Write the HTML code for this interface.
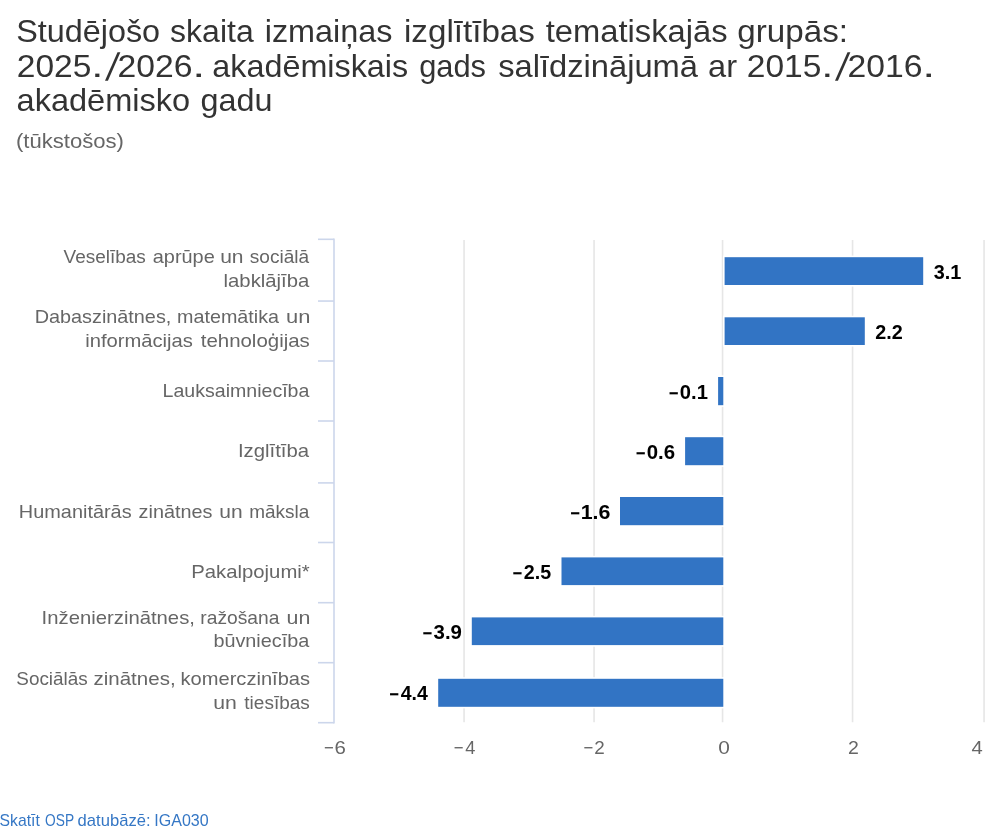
<!DOCTYPE html>
<html lang="lv"><head><meta charset="utf-8"><title>Studējošo skaita izmaiņas</title>
<style>html,body{margin:0;padding:0;background:#ffffff;}body{width:1000px;height:834px;overflow:hidden;font-family:"Liberation Sans",sans-serif;}svg{display:block;will-change:transform;}text{font-family:"Liberation Sans",sans-serif;white-space:pre;}</style></head><body>
<svg width="1000" height="834" viewBox="0 0 1000 834">
<rect x="0" y="0" width="1000" height="834" fill="#ffffff"/>
<g stroke="#e6e6e6" stroke-width="1.6" fill="none">
<path d="M464.05 240V722.3"/>
<path d="M594.05 240V722.3"/>
<path d="M722.55 240V722.3"/>
<path d="M852.55 240V722.3"/>
<path d="M984.05 240V722.3"/>
</g>
<g stroke="#ccd6eb" stroke-width="1.6" fill="none">
<path d="M334 238.5V723.5"/>
<path d="M318 239.30H334"/>
<path d="M318 301.05H334"/>
<path d="M318 361.00H334"/>
<path d="M318 421.00H334"/>
<path d="M318 482.90H334"/>
<path d="M318 542.50H334"/>
<path d="M318 602.70H334"/>
<path d="M318 662.70H334"/>
<path d="M318 722.70H334"/>
</g>
<g fill="#3274c4">
<rect x="723.0" y="255.6" width="201.8" height="31.0" fill="#ffffff"/>
<rect x="724.6" y="257.2" width="198.6" height="27.8"/>
<rect x="723.0" y="315.7" width="143.4" height="30.9" fill="#ffffff"/>
<rect x="724.6" y="317.3" width="140.2" height="27.7"/>
<rect x="716.5" y="375.4" width="8.4" height="31.4" fill="#ffffff"/>
<rect x="718.1" y="377.0" width="5.2" height="28.2"/>
<rect x="683.5" y="435.6" width="41.4" height="31.2" fill="#ffffff"/>
<rect x="685.1" y="437.2" width="38.2" height="28.0"/>
<rect x="618.4" y="495.4" width="106.5" height="31.4" fill="#ffffff"/>
<rect x="620.0" y="497.0" width="103.3" height="28.2"/>
<rect x="559.9" y="555.8" width="165.0" height="30.9" fill="#ffffff"/>
<rect x="561.5" y="557.4" width="161.8" height="27.7"/>
<rect x="470.2" y="615.8" width="254.7" height="30.9" fill="#ffffff"/>
<rect x="471.8" y="617.4" width="251.5" height="27.7"/>
<rect x="436.6" y="677.2" width="288.3" height="31.2" fill="#ffffff"/>
<rect x="438.2" y="678.8" width="285.1" height="28.0"/>
</g>
<path d="M105.0 80.8L107.9 80.8L120.4 52.2L117.5 52.2Z" fill="#333333"/>
<path d="M835.0 80.8L837.9 80.8L850.4 52.2L847.5 52.2Z" fill="#333333"/>
<text transform="translate(16.20 41.5) scale(1.0277 1)" font-size="31.5" fill="#333333">Studējošo</text>
<text transform="translate(170.06 41.5) scale(1.0167 1)" font-size="31.5" fill="#333333">skaita</text>
<text transform="translate(264.73 41.5) scale(1.0272 1)" font-size="31.5" fill="#333333">izmaiņas</text>
<text transform="translate(403.97 41.5) scale(1.0537 1)" font-size="31.5" fill="#333333">izglītības</text>
<text transform="translate(545.77 41.5) scale(1.0385 1)" font-size="31.5" fill="#333333">tematiskajās</text>
<text transform="translate(737.34 41.5) scale(1.0529 1)" font-size="31.5" fill="#333333">grupās:</text>
<text transform="translate(212.35 76.8) scale(1.0264 1)" font-size="31.5" fill="#333333">akadēmiskais</text>
<text transform="translate(419.14 76.8) scale(0.9798 1)" font-size="31.5" fill="#333333">gads</text>
<text transform="translate(498.24 76.8) scale(1.0372 1)" font-size="31.5" fill="#333333">salīdzinājumā</text>
<text transform="translate(708.04 76.8) scale(1.0335 1)" font-size="31.5" fill="#333333">ar</text>
<text transform="translate(16.79 76.8) scale(1.0652 1)" font-size="31.5" fill="#333333">2025</text>
<text transform="translate(91.28 76.8) scale(1.3855 1)" font-size="31.5" fill="#333333">.</text>
<text transform="translate(117.48 76.8) scale(1.0707 1)" font-size="31.5" fill="#333333">2026</text>
<text transform="translate(192.20 76.8) scale(1.4845 1)" font-size="31.5" fill="#333333">.</text>
<text transform="translate(746.79 76.8) scale(1.0652 1)" font-size="31.5" fill="#333333">2015</text>
<text transform="translate(821.28 76.8) scale(1.3855 1)" font-size="31.5" fill="#333333">.</text>
<text transform="translate(847.48 76.8) scale(1.0707 1)" font-size="31.5" fill="#333333">2016</text>
<text transform="translate(922.20 76.8) scale(1.4845 1)" font-size="31.5" fill="#333333">.</text>
<text transform="translate(16.54 111.4) scale(1.0331 1)" font-size="31.5" fill="#333333">akadēmisko</text>
<text transform="translate(200.57 111.4) scale(1.0275 1)" font-size="31.5" fill="#333333">gadu</text>
<text transform="translate(15.94 148.0) scale(1.1048 1)" font-size="20" fill="#666666">(tūkstošos)</text>
<text transform="translate(63.54 263.4) scale(1.0326 1)" font-size="18.4" fill="#666666">Veselības</text>
<text transform="translate(152.74 263.4) scale(1.0833 1)" font-size="18.4" fill="#666666">aprūpe</text>
<text transform="translate(220.15 263.4) scale(1.1428 1)" font-size="18.4" fill="#666666">un</text>
<text transform="translate(249.77 263.4) scale(1.0373 1)" font-size="18.4" fill="#666666">sociālā</text>
<text transform="translate(223.57 286.8) scale(1.1031 1)" font-size="18.4" fill="#666666">labklājība</text>
<text transform="translate(34.74 323.4) scale(1.0777 1)" font-size="18.4" fill="#666666">Dabaszinātnes,</text>
<text transform="translate(177.09 323.4) scale(1.0722 1)" font-size="18.4" fill="#666666">matemātika</text>
<text transform="translate(286.08 323.4) scale(1.1925 1)" font-size="18.4" fill="#666666">un</text>
<text transform="translate(85.17 346.8) scale(1.0987 1)" font-size="18.4" fill="#666666">informācijas</text>
<text transform="translate(200.72 346.8) scale(1.1116 1)" font-size="18.4" fill="#666666">tehnoloģijas</text>
<text transform="translate(162.56 397.0) scale(1.0636 1)" font-size="18.4" fill="#666666">Lauksaimniecība</text>
<text transform="translate(237.91 457.2) scale(1.1053 1)" font-size="18.4" fill="#666666">Izglītība</text>
<text transform="translate(18.84 518.0) scale(1.0818 1)" font-size="18.4" fill="#666666">Humanitārās</text>
<text transform="translate(138.60 518.0) scale(1.0785 1)" font-size="18.4" fill="#666666">zinātnes</text>
<text transform="translate(219.25 518.0) scale(1.1428 1)" font-size="18.4" fill="#666666">un</text>
<text transform="translate(249.14 518.0) scale(1.0320 1)" font-size="18.4" fill="#666666">māksla</text>
<text transform="translate(191.30 578.2) scale(1.1030 1)" font-size="18.4" fill="#666666">Pakalpojumi*</text>
<text transform="translate(41.61 623.8) scale(1.1022 1)" font-size="18.4" fill="#666666">Inženierzinātnes,</text>
<text transform="translate(200.34 623.8) scale(1.0454 1)" font-size="18.4" fill="#666666">ražošana</text>
<text transform="translate(286.62 623.8) scale(1.1649 1)" font-size="18.4" fill="#666666">un</text>
<text transform="translate(213.41 647.2) scale(1.0779 1)" font-size="18.4" fill="#666666">būvniecība</text>
<text transform="translate(16.27 685.4) scale(1.0282 1)" font-size="18.4" fill="#666666">Sociālās</text>
<text transform="translate(93.47 685.4) scale(1.1157 1)" font-size="18.4" fill="#666666">zinātnes,</text>
<text transform="translate(180.58 685.4) scale(1.0920 1)" font-size="18.4" fill="#666666">komerczinības</text>
<text transform="translate(213.13 708.5) scale(1.1538 1)" font-size="18.4" fill="#666666">un</text>
<text transform="translate(244.34 708.5) scale(1.0330 1)" font-size="18.4" fill="#666666">tiesības</text>
<text transform="translate(933.82 278.6) scale(1.0119 1)" font-size="19.6" font-weight="bold" fill="#000000">3.1</text>
<text transform="translate(875.31 338.6) scale(1.0090 1)" font-size="19.6" font-weight="bold" fill="#000000">2.2</text>
<text transform="translate(668.78 399.9) scale(0.8459 1)" font-size="19.6" font-weight="bold" fill="#000000">−</text>
<text transform="translate(679.81 399.0) scale(1.0310 1)" font-size="19.6" font-weight="bold" fill="#000000">0.1</text>
<text transform="translate(635.68 459.9) scale(0.8459 1)" font-size="19.6" font-weight="bold" fill="#000000">−</text>
<text transform="translate(646.70 459.0) scale(1.0415 1)" font-size="19.6" font-weight="bold" fill="#000000">0.6</text>
<text transform="translate(570.28 520.1) scale(0.8459 1)" font-size="19.6" font-weight="bold" fill="#000000">−</text>
<text transform="translate(580.68 519.2) scale(1.0911 1)" font-size="19.6" font-weight="bold" fill="#000000">1.6</text>
<text transform="translate(512.58 579.7) scale(0.8459 1)" font-size="19.6" font-weight="bold" fill="#000000">−</text>
<text transform="translate(523.71 578.8) scale(1.0054 1)" font-size="19.6" font-weight="bold" fill="#000000">2.5</text>
<text transform="translate(422.38 639.7) scale(0.8459 1)" font-size="19.6" font-weight="bold" fill="#000000">−</text>
<text transform="translate(433.60 638.8) scale(1.0422 1)" font-size="19.6" font-weight="bold" fill="#000000">3.9</text>
<text transform="translate(389.18 701.3) scale(0.8459 1)" font-size="19.6" font-weight="bold" fill="#000000">−</text>
<text transform="translate(400.64 700.4) scale(0.9951 1)" font-size="19.6" font-weight="bold" fill="#000000">4.4</text>
<text transform="translate(323.93 753.7) scale(0.8903 1)" font-size="18.8" fill="#666666">−</text>
<text transform="translate(334.48 753.7) scale(1.0883 1)" font-size="18.8" fill="#666666">6</text>
<text transform="translate(453.83 753.7) scale(0.8903 1)" font-size="18.8" fill="#666666">−</text>
<text transform="translate(465.14 753.7) scale(0.9693 1)" font-size="18.8" fill="#666666">4</text>
<text transform="translate(583.53 753.7) scale(0.8903 1)" font-size="18.8" fill="#666666">−</text>
<text transform="translate(594.21 753.7) scale(1.0012 1)" font-size="18.8" fill="#666666">2</text>
<text transform="translate(718.17 753.7) scale(1.1106 1)" font-size="18.8" fill="#666666">0</text>
<text transform="translate(847.97 753.7) scale(1.0365 1)" font-size="18.8" fill="#666666">2</text>
<text transform="translate(971.49 753.7) scale(1.0758 1)" font-size="18.8" fill="#666666">4</text>
<text transform="translate(-0.49 825.7) scale(0.9728 1)" font-size="16.2" fill="#3577c5">Skatīt</text>
<text transform="translate(45.05 825.7) scale(0.8493 1)" font-size="16.2" fill="#3577c5">OSP</text>
<text transform="translate(77.57 825.7) scale(1.0262 1)" font-size="16.2" fill="#3577c5">datubāzē:</text>
<text transform="translate(154.29 825.7) scale(0.9903 1)" font-size="16.2" fill="#3577c5">IGA030</text>
</svg></body></html>
